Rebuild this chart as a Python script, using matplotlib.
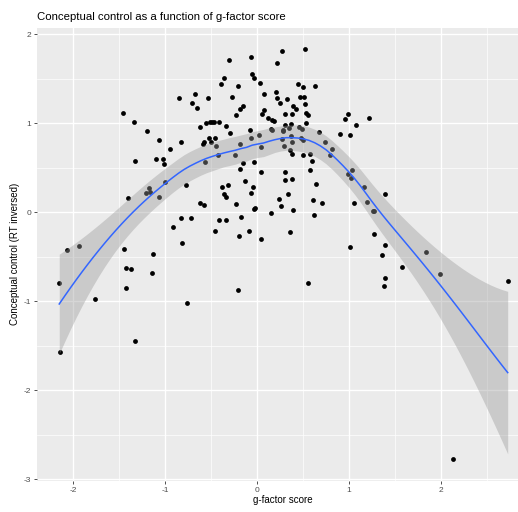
import numpy as np
import matplotlib
matplotlib.use("Agg")
import matplotlib.pyplot as plt
from matplotlib.ticker import MultipleLocator

plt.rcParams['font.family'] = ['Liberation Sans', 'DejaVu Sans']
plt.rcParams['axes.unicode_minus'] = False

title = "Conceptual control as a function of g-factor score"
xlabel = "g-factor score"
ylabel = "Conceptual control (RT inversed)"

g_score = np.array([
    -0.30, -0.36, -0.39, -0.21, -0.27, -0.67, -0.85, -0.53, -0.70, -0.65,
    -0.15, -0.18, -0.23, -1.46, -1.34, -0.62, -0.55, -0.51, -0.49, -0.47,
    -0.41, -0.33, 0.27, 0.52, -0.06, 0.22, -0.05, -0.03, 0.03, 0.45,
    0.50, 0.63, 0.08, 0.21, 0.22, 0.47, 0.51, 0.33, 0.25, 0.52,
    0.39, 0.43, 0.08, 0.06, 0.31, 0.38, 0.53, 0.56, 0.12, 0.17,
    0.19, 0.37, 0.31, 0.54, 0.99, 0.96, 1.22, 1.08, -0.29, -1.20,
    -1.06, -0.82, -0.52, -0.45, -0.57, -0.59, -0.50, -0.95, -0.44, 0.91,
    1.01, 0.68, 0.35, 0.46, 0.49, 0.15, 0.17, 0.28, 0.29, -0.07,
    0.02, -0.06, 0.37, 0.48, 0.50, 0.27, 0.74, 0.05, 0.30, 0.38,
    0.36, 0.38, 0.50, 0.82, 0.80, 0.58, 0.60, -0.18, -0.42, -0.24,
    -1.33, -1.10, -1.02, -1.01, -0.56, -0.15, -0.03, -0.18, 0.05, 0.31,
    0.31, 0.38, 0.58, 0.64, -0.13, 1.04, 0.99, 1.02, 1.17, -1.00,
    -0.77, -1.17, -1.21, -1.16, -1.40, -1.06, -0.38, -0.31, -0.36, -0.33,
    -0.23, -0.62, -0.57, -0.04, -0.06, 0.34, 0.24, 0.26, 0.61, 0.71,
    1.40, 1.06, 1.20, 1.26, 1.28, -0.17, -0.83, -0.72, -0.41, -0.33,
    0.62, 0.15, -0.03, -0.02, 0.39, -0.91, -0.46, -0.19, -0.09, 0.36,
    0.05, 1.27, -0.81, -1.45, -1.13, -2.07, -1.93, 1.01, 1.40, 1.36,
    1.84, 1.58, 1.99, 0.56, 1.40, 1.38, 2.73, 2.14, -1.42, -1.37,
    -1.14, -1.42, -1.33, -0.76, -0.21, -2.15, -1.76, -2.14,
])

conceptual_control = np.array([
    1.71, 1.51, 1.44, 1.42, 1.30, 1.33, 1.28, 1.28, 1.23, 1.17,
    1.20, 1.16, 1.09, 1.12, 1.01, 0.96, 1.00, 1.01, 1.01, 1.01,
    1.01, 0.97, 1.81, 1.83, 1.74, 1.68, 1.55, 1.51, 1.45, 1.44,
    1.41, 1.42, 1.33, 1.35, 1.29, 1.30, 1.30, 1.27, 1.23, 1.22,
    1.20, 1.16, 1.15, 1.10, 1.10, 1.10, 1.12, 1.09, 1.06, 1.04,
    1.03, 0.99, 0.98, 1.00, 1.11, 1.05, 1.06, 0.98, 0.89, 0.91,
    0.81, 0.79, 0.84, 0.84, 0.79, 0.77, 0.79, 0.71, 0.74, 0.88,
    0.87, 0.90, 0.95, 0.96, 0.94, 0.94, 0.92, 0.92, 0.91, 0.92,
    0.87, 0.83, 0.86, 0.84, 0.81, 0.82, 0.79, 0.73, 0.74, 0.79,
    0.70, 0.65, 0.64, 0.71, 0.64, 0.66, 0.58, 0.77, 0.64, 0.64,
    0.58, 0.60, 0.60, 0.54, 0.56, 0.55, 0.57, 0.49, 0.45, 0.45,
    0.36, 0.37, 0.47, 0.32, 0.35, 0.48, 0.43, 0.39, 0.29, 0.34,
    0.31, 0.27, 0.22, 0.23, 0.16, 0.17, 0.28, 0.31, 0.21, 0.17,
    0.09, 0.11, 0.08, 0.28, 0.22, 0.21, 0.15, 0.07, 0.14, 0.10,
    0.21, 0.10, 0.12, 0.01, 0.01, -0.05, -0.06, -0.06, -0.09, -0.09,
    -0.03, -0.01, 0.04, 0.05, 0.03, -0.17, -0.21, -0.27, -0.21, -0.22,
    -0.30, -0.24, -0.34, -0.41, -0.47, -0.42, -0.38, -0.39, -0.37, -0.48,
    -0.45, -0.61, -0.69, -0.79, -0.74, -0.83, -0.77, -2.77, -0.63, -0.64,
    -0.68, -0.85, -1.45, -1.02, -0.87, -0.79, -0.97, -1.57,
])

x_ticks = [-2, -1, 0, 1, 2]
y_ticks = [-3, -2, -1, 0, 1, 2]


def loess(x, y, xs, span=0.75):
    n = len(x)
    q = int(np.floor(n * span))

    def weights_row(x0):
        d = np.abs(x - x0)
        h = np.sort(d)[q - 1]
        u = np.clip(d / h, 0, 1)
        w = (1 - u ** 3) ** 3
        X = np.column_stack([np.ones(n), x - x0, (x - x0) ** 2])
        XtW = X.T * w
        A = XtW @ X
        return np.linalg.solve(A, XtW)[0]

    L = np.array([weights_row(x0) for x0 in x])
    resid = y - L @ y
    M = np.eye(n) - L
    delta1 = np.trace(M.T @ M)
    sigma = np.sqrt(np.sum(resid ** 2) / delta1)
    Ls = np.array([weights_row(x0) for x0 in xs])
    fit = Ls @ y
    se = sigma * np.sqrt(np.sum(Ls ** 2, axis=1))
    return fit, se


xs = np.linspace(g_score.min(), g_score.max(), 80)
fit, se = loess(g_score, conceptual_control, xs)
tq = 1.97

fig = plt.figure(figsize=(5.18, 5.12), dpi=100)
ax = fig.add_axes([37 / 518, 31 / 512, 481 / 518, 453 / 512])
ax.set_facecolor('#EBEBEB')
for s in ax.spines.values():
    s.set_visible(False)

ax.xaxis.set_major_locator(MultipleLocator(1))
ax.xaxis.set_minor_locator(MultipleLocator(0.5))
ax.yaxis.set_major_locator(MultipleLocator(1))
ax.yaxis.set_minor_locator(MultipleLocator(0.5))
ax.grid(which='major', color='white', linewidth=1.0)
ax.grid(which='minor', color='white', linewidth=0.5)
ax.set_axisbelow(True)
ax.tick_params(which='minor', length=0)
ax.tick_params(which='major', length=2.2, width=0.6, color='#333333',
               labelsize=6, labelcolor='#4D4D4D', pad=2)

ax.scatter(g_score, conceptual_control, s=12, color='black', zorder=3, linewidths=0)
ax.fill_between(xs, fit - tq * se, fit + tq * se, color='#999999', alpha=0.4,
                linewidth=0, zorder=4)
ax.plot(xs, fit, color='#3366FF', linewidth=1.1, zorder=5)

ax.set_xticks(x_ticks)
ax.set_yticks(y_ticks)
ax.set_xlim(-2.392, 2.842)
ax.set_ylim(-3.019, 2.071)

fig.text(37 / 518, 1 - 17 / 512, title, fontsize=8.2, ha='left', va='center', color='black')
fig.text(283 / 518, 1 - 500 / 512, xlabel, fontsize=7, ha='center', va='center', color='black')
fig.text(15 / 518, 1 - 254 / 512, ylabel, fontsize=7, ha='center', va='center',
         rotation=90, color='black')

fig.savefig('out.png', dpi=100)
